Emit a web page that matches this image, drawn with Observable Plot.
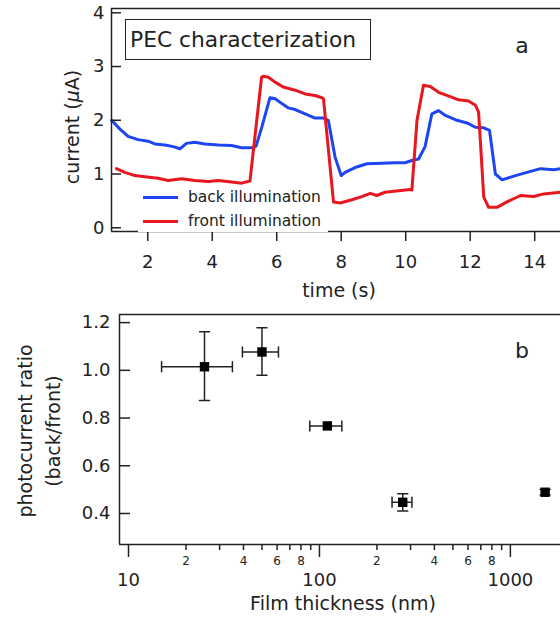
<!DOCTYPE html>
<html>
<head>
<meta charset="utf-8">
<script src="https://cdn.jsdelivr.net/npm/d3@7"></script>
<script src="https://cdn.jsdelivr.net/npm/@observablehq/plot@0.6"></script>
<style>
  html, body { margin: 0; padding: 0; background: #fff; }
  #wrap { position: relative; width: 560px; height: 617px; font-family: "DejaVu Sans", sans-serif; color: #222; overflow: hidden; }
  .abs { position: absolute; white-space: nowrap; }
  .c { transform: translate(-50%, -50%); }
  .rot { transform: translate(-50%, -50%) rotate(-90deg); }
</style>
</head>
<body>
<div id="wrap">
  <div id="top" class="abs" style="left:0;top:0"></div>
  <div id="bot" class="abs" style="left:0;top:300px"></div>

  <div class="abs" style="left:125px;top:19px;width:240px;height:39px;border:1.5px solid #222;background:#fff;font-size:21.8px;line-height:39px;padding-left:4px;box-sizing:content-box;">PEC characterization</div>
  <div class="abs c" style="left:522px;top:45px;font-size:22px;">a</div>
  <div class="abs c" style="left:522px;top:350px;font-size:22px;">b</div>

  <div id="legend" class="abs" style="left:138px;top:186px;width:190px;height:46px;background:#fff;"></div>

  <div class="abs c" style="left:339px;top:290px;font-size:19px;">time (s)</div>
  <div class="abs rot" style="left:72px;top:127px;font-size:19px;">current (<i>μ</i>A)</div>
  <div class="abs rot" style="left:25px;top:431px;font-size:19px;">photocurrent ratio</div>
  <div class="abs rot" style="left:53px;top:431px;font-size:19px;">(back/front)</div>
  <div class="abs c" style="left:343px;top:603px;font-size:19px;">Film thickness (nm)</div>
</div>
<script>
// ---------- Panel a: PEC characterization ----------
const seriesNames = ["back illumination", "front illumination"];
const seriesColors = ["#1d45f2", "#e8161e"];

const timeBack = [0.88,1.13,1.39,1.70,2.01,2.22,2.53,2.79,3.0,3.2,3.46,3.77,4.19,4.6,4.91,5.27,5.36,5.55,5.79,5.95,6.16,6.36,6.57,6.88,7.19,7.45,7.6,7.81,8.0,8.12,8.43,8.8,9.26,9.67,9.98,10.24,10.4,10.6,10.81,11.02,11.23,11.59,11.9,12.16,12.42,12.6,12.78,12.99,13.35,13.76,14.18,14.59,14.8];
const currentBack = [2.0,1.84,1.70,1.64,1.61,1.56,1.54,1.51,1.47,1.57,1.59,1.56,1.54,1.53,1.49,1.49,1.52,1.9,2.42,2.40,2.31,2.23,2.20,2.12,2.04,2.04,2.0,1.31,0.97,1.03,1.12,1.19,1.20,1.21,1.21,1.26,1.28,1.51,2.12,2.18,2.09,2.0,1.95,1.87,1.86,1.81,1.0,0.89,0.96,1.03,1.10,1.08,1.10];

const timeFront = [1.03,1.29,1.6,1.91,2.32,2.63,3.05,3.46,3.88,4.19,4.6,4.91,5.17,5.53,5.58,5.74,5.95,6.2,6.57,6.88,7.19,7.4,7.45,7.76,7.97,8.33,8.64,8.9,9.1,9.36,9.78,10.14,10.19,10.35,10.55,10.76,11.02,11.38,11.64,11.95,12.16,12.26,12.42,12.57,12.83,13.14,13.56,13.97,14.28,14.8];
const currentFront = [1.10,1.03,0.97,0.95,0.92,0.88,0.91,0.88,0.86,0.88,0.85,0.83,0.87,2.80,2.82,2.80,2.71,2.62,2.56,2.49,2.46,2.42,2.40,0.48,0.46,0.52,0.58,0.64,0.60,0.66,0.69,0.71,0.70,2.0,2.65,2.63,2.52,2.44,2.38,2.36,2.28,2.15,0.57,0.38,0.38,0.48,0.60,0.58,0.63,0.66];

const timeTicks = [2, 4, 6, 8, 10, 12, 14];
const currentTicks = [0, 1, 2, 3, 4];
const timeDomain = [0.876, 14.8];
const currentDomain = [-0.07, 4.08];

// ---------- Panel b: photocurrent ratio ----------
const thickness   = [25, 50, 110, 273, 1520];
const thicknessLo = [14.9, 39.5, 89, 240, null];
const thicknessHi = [35, 61, 131, 305, null];
const ratio   = [1.015, 1.077, 0.767, 0.447, 0.489];
const ratioLo = [0.874, 0.979, null, 0.41, 0.477];
const ratioHi = [1.162, 1.178, null, 0.483, 0.501];

const ratioTicks = [0.4, 0.6, 0.8, 1.0, 1.2];
const thicknessMajor = [10, 100, 1000];
const thicknessMinor = [20,30,40,50,60,70,80,90,200,300,400,500,600,700,800,900];
const thicknessMinorLabeled = [20, 40, 60, 80, 200, 400, 600, 800];
const thicknessMinorLabels = ["2", "4", "6", "8", "2", "4", "6", "8"];
const thicknessDomain = [8.97, 1830];
const ratioDomain = [0.27, 1.234];

const axisColor = "#222";

const back = timeBack.map((t, i) => ({t, v: currentBack[i]}));
const front = timeFront.map((t, i) => ({t, v: currentFront[i]}));

const topPlot = Plot.plot({
  width: 560, height: 300,
  marginLeft: 111, marginRight: 0, marginTop: 8, marginBottom: 69,
  x: {type: "linear", domain: timeDomain},
  y: {type: "linear", domain: currentDomain},
  style: {fontFamily: "DejaVu Sans", fontSize: "18px", color: axisColor, background: "transparent", overflow: "visible"},
  marks: [
    Plot.line(back, {x: "t", y: "v", stroke: seriesColors[0], strokeWidth: 3, strokeLinejoin: "round"}),
    Plot.line(front, {x: "t", y: "v", stroke: seriesColors[1], strokeWidth: 3, strokeLinejoin: "round"}),
    Plot.ruleY([currentDomain[1]], {stroke: axisColor, strokeWidth: 1.5}),
    Plot.ruleY([currentDomain[0]], {stroke: axisColor, strokeWidth: 1.5}),
    Plot.ruleX([timeDomain[0]], {stroke: axisColor, strokeWidth: 1.5}),
    Plot.axisX({ticks: timeTicks, tickSize: 10, tickPadding: 14, fontSize: 18, label: null, strokeWidth: 1.5, tickFormat: d => d}),
    Plot.axisY({ticks: currentTicks, tickSize: -10, tickPadding: 17, fontSize: 18, label: null, strokeWidth: 1.5, tickFormat: d => d})
  ]
});
document.getElementById("top").appendChild(topPlot);

const pts = thickness.map((x, i) => ({
  x, y: ratio[i], xlo: thicknessLo[i], xhi: thicknessHi[i], ylo: ratioLo[i], yhi: ratioHi[i]
}));
const hasX = pts.filter(d => d.xlo != null);
const hasY = pts.filter(d => d.ylo != null);
const capShape = {draw(context, l) { context.moveTo(0, 0); context.lineTo(0, -l); }};
const minorLabelData = thicknessMinorLabeled.map((x, i) => ({x, label: thicknessMinorLabels[i]}));

const botPlot = Plot.plot({
  width: 560, height: 317,
  marginLeft: 119, marginRight: 0, marginTop: 14, marginBottom: 73,
  x: {type: "log", domain: thicknessDomain},
  y: {type: "linear", domain: ratioDomain},
  style: {fontFamily: "DejaVu Sans", fontSize: "18px", color: axisColor, background: "transparent", overflow: "visible"},
  marks: [
    Plot.ruleY(hasX, {y: "y", x1: "xlo", x2: "xhi", stroke: "#222", strokeWidth: 1.5}),
    Plot.ruleX(hasY, {x: "x", y1: "ylo", y2: "yhi", stroke: "#222", strokeWidth: 1.5}),
    Plot.vector(hasX, {x: "xlo", y: "y", length: 10, rotate: 0, anchor: "middle", shape: capShape, stroke: "#222", strokeWidth: 1.5}),
    Plot.vector(hasX, {x: "xhi", y: "y", length: 10, rotate: 0, anchor: "middle", shape: capShape, stroke: "#222", strokeWidth: 1.5}),
    Plot.vector(hasY, {x: "x", y: "ylo", length: 10, rotate: 90, anchor: "middle", shape: capShape, stroke: "#222", strokeWidth: 1.5}),
    Plot.vector(hasY, {x: "x", y: "yhi", length: 10, rotate: 90, anchor: "middle", shape: capShape, stroke: "#222", strokeWidth: 1.5}),
    Plot.dot(pts, {x: "x", y: "y", symbol: "square", r: 5.3, fill: "#000", stroke: "none"}),
    Plot.ruleY([ratioDomain[1]], {stroke: axisColor, strokeWidth: 1.5}),
    Plot.ruleY([ratioDomain[0]], {stroke: axisColor, strokeWidth: 1.5}),
    Plot.ruleX([thicknessDomain[0]], {stroke: axisColor, strokeWidth: 1.5}),
    Plot.axisX({ticks: thicknessMajor, tickSize: 13, tickPadding: 16, fontSize: 18, label: null, strokeWidth: 1.5, tickFormat: d => String(d)}),
    Plot.axisX({ticks: thicknessMinor, tickSize: 6, label: null, strokeWidth: 1.5, tickFormat: () => ""}),
    Plot.text(minorLabelData, {x: "x", text: "label", frameAnchor: "bottom", lineAnchor: "top", dy: 12, fontSize: 12, fill: axisColor}),
    Plot.axisY({ticks: ratioTicks, tickSize: -11, tickPadding: 20, fontSize: 18, label: null, strokeWidth: 1.5, tickFormat: d3.format(".1f")})
  ]
});
document.getElementById("bot").appendChild(botPlot);

// legend (HTML, drawn from the series arrays)
const legend = document.getElementById("legend");
seriesNames.forEach((name, i) => {
  const row = document.createElement("div");
  row.style.cssText = "position:absolute;left:5px;top:" + (i * 24 + 1) + "px;height:20px;display:flex;align-items:center;font-size:15.5px;";
  const sw = document.createElement("span");
  sw.style.cssText = "display:inline-block;width:35px;height:3px;background:" + seriesColors[i] + ";margin-right:10px;";
  row.appendChild(sw);
  row.appendChild(document.createTextNode(name));
  legend.appendChild(row);
});
</script>
</body>
</html>
